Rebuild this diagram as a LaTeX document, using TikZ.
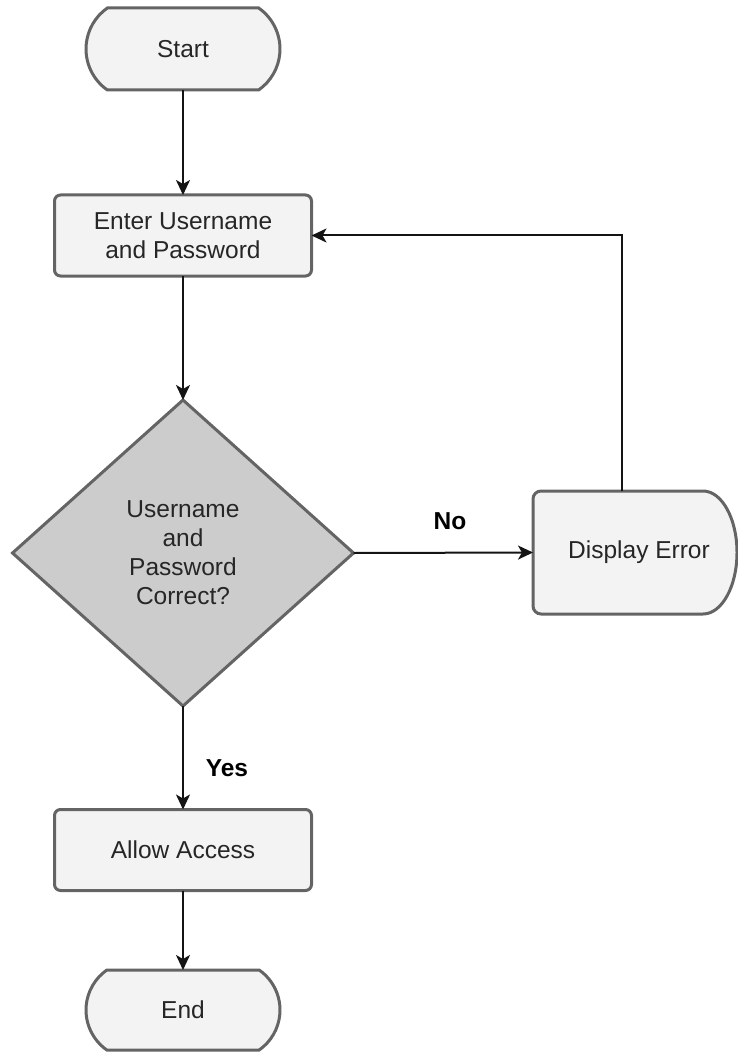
\documentclass[tikz,border=0pt]{standalone}
\usepackage{fontspec}
\setmainfont{Liberation Sans}
\usetikzlibrary{shapes.geometric,shapes.misc,arrows.meta,backgrounds}
\definecolor{edgegray}{RGB}{100,100,100}
\definecolor{boxfill}{RGB}{243,243,243}
\definecolor{decfill}{RGB}{204,204,204}
\definecolor{linecol}{RGB}{20,20,20}

\begin{document}
\begin{tikzpicture}[x=1pt,y=1pt,
  every node/.style={font=\fontsize{24.5}{29}\selectfont, text=black!85, align=center, inner sep=0pt, outer sep=0pt},
  term/.style={rounded rectangle, rounded rectangle arc length=110, draw=edgegray, line width=3pt, fill=boxfill, minimum width=194pt, minimum height=82pt},
  proc/.style={rectangle, rounded corners=6pt, draw=edgegray, line width=3pt, fill=boxfill, minimum width=257pt, minimum height=81pt},
  dec/.style={diamond, aspect=1.11, draw=edgegray, line width=3pt, fill=decfill, minimum width=341pt, minimum height=306pt},
  dispnode/.style={rectangle, minimum width=204pt, minimum height=123pt},
  displine/.style={draw=edgegray, line width=3pt, fill=boxfill},
  flow/.style={draw=linecol, line width=2pt, -{Stealth[length=15pt,width=14pt,inset=4pt]}},
  lbl/.style={font=\fontsize{24.5}{29}\selectfont\bfseries, text=black}
]
\useasboundingbox (0,0) rectangle (738,-1059);

% nodes
\node[term] (start) at (183,-49) {Start};
\node[proc] (enter) at (183,-235.5) {Enter Username\\and Password};
\node[dec] (check) at (183,-553) {Username\\and\\Password\\Correct?};
\node[dispnode] (disp) at (635,-552.5) {\hspace*{8pt}Display Error};
\node[proc] (allow) at (183,-850) {Allow Access};
\node[term, minimum height=80pt] (end) at (183,-1010) {End};

% display shape outline: rounded left corners, curved right side
\begin{scope}[on background layer]
  \draw[displine] ([xshift=8pt]disp.north west) -- ([xshift=-34pt]disp.north east)
    arc[start angle=90, end angle=-90, x radius=34pt, y radius=61.5pt]
    -- ([xshift=8pt]disp.south west)
    arc[start angle=270, end angle=180, radius=8pt]
    -- ([yshift=-8pt]disp.north west)
    arc[start angle=180, end angle=90, radius=8pt] -- cycle;
\end{scope}

% connectors
\draw[flow] (start.south) -- (enter.north);
\draw[flow] (enter.south) -- (check.north);
\draw[flow] (check.east) -- (disp.west);
\draw[flow] ([xshift=-13pt]disp.north) |- (enter.east);
\draw[flow] (check.south) -- (allow.north);
\draw[flow] (allow.south) -- (end.north);

% branch labels
\node[lbl] (no) at (450,-521) {No};
\node[lbl] (yes) at (227,-768) {Yes};
\end{tikzpicture}
\end{document}
